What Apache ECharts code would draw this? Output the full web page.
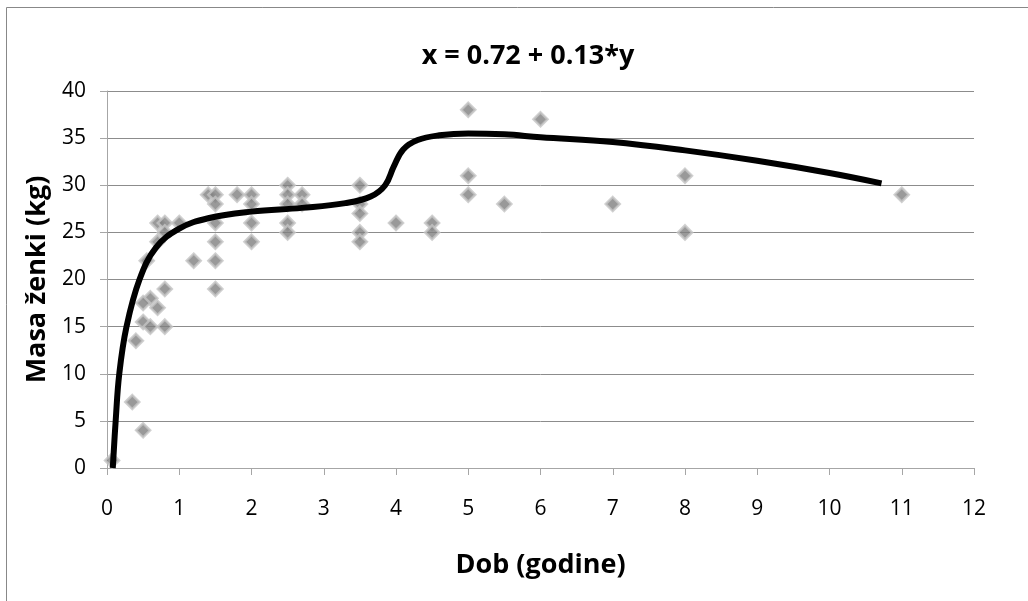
<!DOCTYPE html>
<html>
<head>
<meta charset="utf-8">
<script src="https://cdn.jsdelivr.net/npm/echarts@6/dist/echarts.min.js"></script>
<style>
html,body{margin:0;padding:0;background:#fff;}
#chart{width:1028px;height:601px;}
</style>
</head>
<body>
<div id="chart"></div>
<script>
var titleText = 'x = 0.72 + 0.13*y';
var xAxisName = 'Dob (godine)';
var yAxisName = 'Masa ženki (kg)';

// observed points: age (years), mass (kg)
var ageValues = [0.07,0.35,0.5,0.4,0.5,0.6,0.8,0.7,0.6,0.5,0.8,0.55,0.7,0.7,0.8,0.8,1,1.2,
  1.4,1.5,1.5,1.5,1.5,1.5,1.5,1.8,2,2,2,2,2.5,2.5,2.5,2.5,2.5,2.7,2.7,
  3.5,3.5,3.5,3.5,3.5,4,4.5,4.5,5,5,5,5.5,6,7,8,8,11];
var massValues = [0.8,7,4,13.5,15.5,15,15,17,18,17.5,19,22,24,26,26,25,26,22,
  29,29,28,26,24,22,19,29,29,28,26,24,30,29,28,26,25,29,28,
  30,28,27,25,24,26,26,25,38,31,29,28,37,28,31,25,29];

// fitted curve
var curveAge = [0.08,0.12,0.17,0.27,0.45,0.68,1.0,1.4,2.0,2.7,3.3,3.65,3.85,3.97,4.1,4.3,4.6,5.0,5.5,6.0,7.0,8.0,9.0,10.0,10.72];
var curveMass = [0,5,10,15,20,23.4,25.4,26.5,27.2,27.6,28.1,28.8,30,32,33.8,34.8,35.3,35.5,35.4,35.1,34.6,33.7,32.6,31.3,30.2];

var xTicks = {min:0, max:12, interval:1};
var yTicks = {min:0, max:40, interval:5};

var pts = ageValues.map(function(a,i){return [a, massValues[i]];});
var curve = curveAge.map(function(a,i){return [a, curveMass[i]];});

var font = '"Open Sans", Lato, sans-serif';
var chart = echarts.init(document.getElementById('chart'));
chart.setOption({
  backgroundColor:'#fff',
  animation:false,
  title:{text:titleText, left:523, textAlign:'center', top:38,
    textStyle:{fontFamily:font, fontSize:27, fontWeight:'bold', color:'#000'}},
  graphic:[{type:'rect', shape:{x:6.5,y:7.5,width:1040,height:620},
    style:{fill:'none', stroke:'#888', lineWidth:1}, silent:true}],
  grid:{left:107, right:54, top:91, bottom:133},
  xAxis:{type:'value', min:xTicks.min, max:xTicks.max, interval:xTicks.interval,
    name:xAxisName, nameLocation:'middle', nameGap:84,
    nameTextStyle:{fontFamily:font, fontSize:27, fontWeight:'bold', color:'#000'},
    axisLine:{show:true, lineStyle:{color:'#a6a6a6', width:1}},
    axisTick:{show:true, length:7, lineStyle:{color:'#a6a6a6'}},
    axisLabel:{fontFamily:font, fontSize:21, color:'#000', margin:31},
    splitLine:{show:false}},
  yAxis:{type:'value', min:yTicks.min, max:yTicks.max, interval:yTicks.interval,
    name:yAxisName, nameLocation:'middle', nameGap:56, nameRotate:90,
    nameTextStyle:{fontFamily:font, fontSize:27, fontWeight:'bold', color:'#000'},
    axisLine:{show:true, lineStyle:{color:'#a6a6a6', width:1}},
    axisTick:{show:true, length:7, lineStyle:{color:'#a6a6a6'}},
    axisLabel:{fontFamily:font, fontSize:21, color:'#000', margin:21},
    splitLine:{show:true, lineStyle:{color:'#8c8c8c', width:1}}},
  series:[
    {type:'scatter', data:pts, symbol:'diamond', symbolSize:14,
      itemStyle:{color:'#808080', borderColor:'#c4c4c4', borderWidth:2.5}, z:2},
    {type:'line', data:curve, smooth:0.4, showSymbol:false, symbol:'none',
      lineStyle:{color:'#000', width:6}, z:3}
  ]
});
</script>
</body>
</html>
